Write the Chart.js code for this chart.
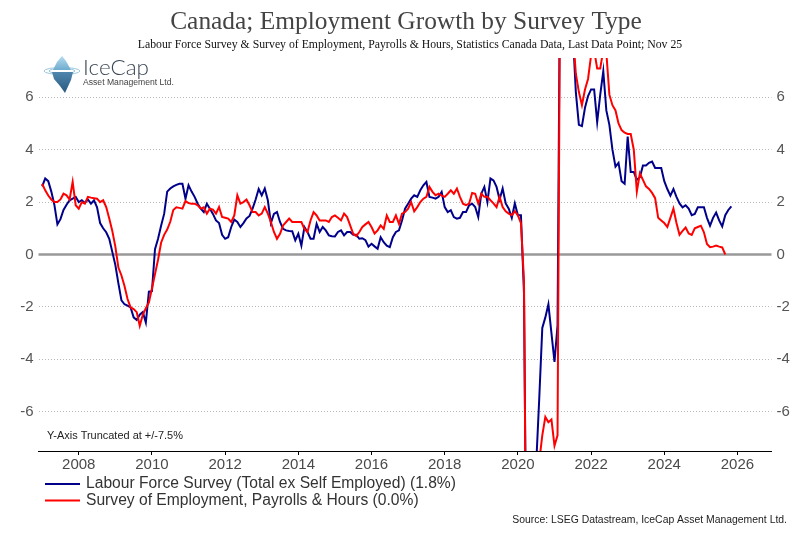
<!DOCTYPE html>
<html>
<head>
<meta charset="utf-8">
<script src="https://cdn.jsdelivr.net/npm/chart.js@4.4.1/dist/chart.umd.min.js"></script>
<style>
html, body { margin: 0; padding: 0; background: #fff; }
canvas { display: block; }
</style>
</head>
<body>
<canvas id="chart" width="810" height="539"></canvas>
<script>
// monthly y/y % growth, first point Jan 2007
const startYear = 2007;
const yearTicks = [2008, 2010, 2012, 2014, 2016, 2018, 2020, 2022, 2024, 2026];
const valueTicks = [-6, -4, -2, 0, 2, 4, 6];
const seriesNames = [
    'Labour Force Survey (Total ex Self Employed) (1.8%)',
    'Survey of Employment, Payrolls & Hours (0.0%)'
];

// Labour Force Survey, Jan 2007 - Nov 2025
const lfsValues = [
    2.6, 2.9, 2.8, 2.4, 1.9, 1.15, 1.35, 1.7, 1.9, 2.07, 2.13, 2.2,
    2.0, 2.07, 1.97, 2.1, 1.94, 2.07, 1.8, 1.2, 1.0, 0.85, 0.6, 0.1,
    -0.4, -1.1, -1.75, -1.9, -1.95, -2.02, -2.4, -2.5, -2.3, -2.2, -2.6, -1.42,
    -1.4, 0.2, 0.6, 1.1, 1.55, 2.4, 2.52, 2.6, 2.66, 2.7, 2.7, 2.13,
    2.64, 2.4, 2.2, 1.94, 1.75, 1.62, 1.94, 1.75, 1.55, 1.3, 1.2, 0.75,
    0.6, 0.66, 1.05, 1.33, 1.24, 1.05, 1.2, 1.38, 1.47, 1.75, 2.1, 2.5,
    2.26, 2.52, 2.07, 1.2, 1.55, 1.62, 1.24, 0.98, 0.92, 0.9, 0.89, 0.54,
    0.79, 0.34, 1.05, 0.86, 0.6, 0.6, 1.17, 0.86, 1.05, 0.92, 0.73, 0.7,
    0.69, 0.86, 0.92, 0.73, 0.86, 0.86, 0.75, 0.75, 0.6, 0.62, 0.55, 0.3,
    0.41, 0.31, 0.22, 0.66, 0.47, 0.34, 0.28, 0.66, 0.86, 0.92, 1.3, 1.75,
    1.94, 2.13, 2.26, 2.2, 2.45, 2.64, 2.77, 2.2, 2.17, 2.13, 2.2, 2.39,
    1.81, 1.62, 1.69, 1.43, 1.37, 1.4, 1.62, 1.62, 1.88, 1.94, 1.81, 1.43,
    2.32, 2.58, 2.0, 2.9, 2.83, 2.58, 2.1, 2.52, 1.95, 1.75, 1.4, 1.95,
    1.5, 1.5, -1.5, -15, -12, -10, -8.0, -5.5, -2.8, -2.4, -1.9, -3.0,
    -4.1, -2.7, 14, 16, 14, 11, 8.5, 6.2, 4.95, 4.9, 5.6, 6.05,
    6.3, 6.3, 5.05, 6.1, 7.0, 5.5, 4.95, 4.0, 3.35, 3.5, 2.8, 2.7,
    4.5, 3.15, 3.15, 2.85, 2.95, 3.4, 3.4, 3.5, 3.55, 3.3, 3.3, 3.3,
    2.8, 2.5, 2.25, 2.5, 2.2, 1.95, 1.8, 1.88, 1.75, 1.5, 1.55, 1.8,
    1.8, 1.8, 1.4, 1.1, 1.4, 1.6, 1.3, 1.07, 1.5, 1.7, 1.84
];

// Survey of Employment, Payrolls & Hours, Jan 2007 - Sep 2025
const sephValues = [
    2.7, 2.45, 2.25, 2.1, 2.0, 2.0, 2.1, 2.32, 2.26, 2.1, 2.77, 1.88,
    1.75, 2.0, 1.94, 2.2, 2.17, 2.15, 2.13, 2.0, 2.07, 1.81, 1.37, 0.9,
    0.3, -0.5, -0.8, -1.2, -1.7, -2.02, -2.08, -2.2, -2.72, -2.3, -2.05, -1.83,
    -1.3, -0.75, -0.2, 0.45, 0.75, 0.95, 1.25, 1.7, 1.8, 1.78, 1.75, 2.04,
    1.96, 1.94, 1.94, 1.88, 1.75, 1.8, 1.56, 1.75, 1.71, 1.56, 1.81, 1.43,
    1.4, 1.37, 1.24, 1.49, 2.26, 1.94, 2.0, 2.1, 1.88, 1.62, 1.62, 1.49,
    1.56, 1.81, 1.56, 1.24, 0.86, 0.6, 0.79, 1.11, 1.24, 1.37, 1.24, 1.24,
    1.24, 1.24, 0.98, 0.86, 1.3, 1.62, 1.49, 1.3, 1.3, 1.3, 1.24, 1.43,
    1.49, 1.4, 1.3, 1.56, 1.43, 1.11, 0.79, 0.7, 0.86, 1.05, 1.15, 1.24,
    1.05, 0.8, 0.92, 1.11, 0.98, 1.49, 1.24, 1.24, 1.49, 1.17, 1.56, 1.62,
    1.75, 2.0, 1.65, 1.81, 2.0, 2.13, 2.2, 2.58, 2.39, 2.26, 2.32, 2.25,
    2.2, 2.32, 2.45, 2.32, 2.52, 2.2, 1.94, 1.88, 1.94, 2.35, 2.32, 1.94,
    2.32, 2.2, 2.2, 2.07, 1.95, 1.81, 2.2, 1.81, 1.65, 1.56, 1.5, 1.65,
    1.49, 1.2, -1.0, -17, -16, -12, -9.5, -7.9, -6.9, -6.2, -6.4, -6.3,
    -7.3, -6.9, 14, 18, 15, 11, 8.5, 6.9, 6.2, 5.7, 6.3, 6.7,
    7.6, 7.8, 7.1, 7.1, 7.8, 7.7, 6.1, 5.7, 5.5, 5.0, 4.75, 4.65,
    4.6, 4.6, 4.0, 2.4, 3.1, 2.85, 2.6, 2.5, 2.35, 2.15, 1.4, 1.3,
    1.2, 1.05, 1.4, 1.75, 1.2, 0.75, 0.9, 1.03, 0.8, 0.75, 1.0, 1.05,
    1.1, 0.85, 0.4, 0.28, 0.3, 0.34, 0.3, 0.27, 0.0
];

let toPoints = function (values) {
    return values.map((v, i) => ({ x: startYear + i / 12, y: v }));
};

// fit a font size so the text takes a given width
let fitFont = function (ctx, text, family, weight, width) {
    ctx.font = weight + ' 20px ' + family;
    let size = 20 * width / ctx.measureText(text).width;
    return weight + ' ' + size.toFixed(2) + 'px ' + family;
};

let drawLogo = function (ctx) {
    ctx.save();
    // water rings
    ctx.strokeStyle = '#9cc8e0';
    ctx.lineWidth = 1;
    ctx.beginPath(); ctx.ellipse(62, 71, 18, 3.5, 0, 0, Math.PI * 2); ctx.stroke();
    ctx.beginPath(); ctx.ellipse(62, 71, 13, 2.5, 0, 0, Math.PI * 2); ctx.stroke();
    // ice above water
    let g1 = ctx.createLinearGradient(0, 56, 0, 71);
    g1.addColorStop(0, '#b5dcef');
    g1.addColorStop(1, '#6aa8cc');
    ctx.fillStyle = g1;
    ctx.beginPath();
    ctx.moveTo(62, 56); ctx.lineTo(66, 61); ctx.lineTo(71, 70);
    ctx.lineTo(53, 70); ctx.lineTo(57, 62); ctx.closePath(); ctx.fill();
    // ice below water
    let g2 = ctx.createLinearGradient(0, 72, 0, 93);
    g2.addColorStop(0, '#4f86ad');
    g2.addColorStop(1, '#2a5a80');
    ctx.fillStyle = g2;
    ctx.beginPath();
    ctx.moveTo(52, 72); ctx.lineTo(73, 72); ctx.lineTo(71, 80);
    ctx.lineTo(65, 93); ctx.lineTo(60, 86); ctx.lineTo(54, 79); ctx.closePath(); ctx.fill();
    // name
    ctx.fillStyle = '#3a4653';
    ctx.textBaseline = 'alphabetic';
    ctx.textAlign = 'left';
    ctx.font = fitFont(ctx, 'IceCap', 'Lato, Liberation Sans', '300', 66);
    ctx.fillText('IceCap', 83, 75);
    ctx.fillStyle = '#444';
    ctx.font = fitFont(ctx, 'Asset Management Ltd.', 'Liberation Sans', 'normal', 91);
    ctx.fillText('Asset Management Ltd.', 83, 85);
    ctx.restore();
};

const decorPlugin = {
    id: 'decor',
    beforeDraw: function (chart) {
        let ctx = chart.ctx;
        ctx.save();
        ctx.fillStyle = '#fff';
        ctx.fillRect(0, 0, chart.width, chart.height);
        ctx.restore();
    },
    beforeDatasetsDraw: function (chart) {
        // zero line
        let ctx = chart.ctx;
        let area = chart.chartArea;
        let y0 = chart.scales.y.getPixelForValue(0);
        ctx.save();
        ctx.strokeStyle = '#999';
        ctx.lineWidth = 2.5;
        ctx.beginPath();
        ctx.moveTo(area.left, y0);
        ctx.lineTo(area.right, y0);
        ctx.stroke();
        ctx.restore();
    },
    afterDraw: function (chart) {
        let ctx = chart.ctx;
        ctx.save();
        ctx.textBaseline = 'middle';

        let title = 'Canada; Employment Growth by Survey Type';
        ctx.fillStyle = '#444';
        ctx.textAlign = 'center';
        ctx.font = fitFont(ctx, title, 'Liberation Serif', 'normal', 472);
        ctx.fillText(title, 406, 22);

        let sub = 'Labour Force Survey & Survey of Employment, Payrolls & Hours, Statistics Canada Data, Last Data Point; Nov 25';
        ctx.fillStyle = '#111';
        ctx.font = fitFont(ctx, sub, 'Liberation Serif', 'normal', 545);
        ctx.fillText(sub, 410, 45);

        drawLogo(ctx);

        let note = 'Y-Axis Truncated at +/-7.5%';
        ctx.textAlign = 'left';
        ctx.fillStyle = '#222';
        ctx.font = fitFont(ctx, note, 'Liberation Sans Narrow, Liberation Sans', 'normal', 136);
        ctx.fillText(note, 47, 436);

        // legend
        ctx.font = fitFont(ctx, seriesNames[0], 'Liberation Sans', 'normal', 370);
        let legendFont = ctx.font;
        chart.data.datasets.forEach(function (ds, i) {
            let y = 484 + i * 16.5;
            ctx.strokeStyle = ds.borderColor;
            ctx.lineWidth = 2;
            ctx.beginPath();
            ctx.moveTo(45, y);
            ctx.lineTo(80, y);
            ctx.stroke();
            ctx.fillStyle = '#333';
            ctx.font = legendFont;
            ctx.fillText(ds.label, 86, y);
        });

        let src = 'Source: LSEG Datastream, IceCap Asset Management Ltd.';
        ctx.textAlign = 'right';
        ctx.fillStyle = '#222';
        ctx.font = fitFont(ctx, src, 'Liberation Sans Narrow, Liberation Sans', 'normal', 275);
        ctx.fillText(src, 787, 520);
        ctx.restore();
    }
};

let chartDraw = function () {
    let painter = document.getElementById('chart').getContext('2d');
    window.surveyChart = new Chart(painter, {
        type: 'line',
        data: {
            datasets: [{
                label: seriesNames[0],
                data: toPoints(lfsValues),
                borderColor: '#00008b',
                borderWidth: 2,
                pointRadius: 0,
                clip: 0,
                order: 2,
            }, {
                label: seriesNames[1],
                data: toPoints(sephValues),
                borderColor: '#ff0000',
                borderWidth: 2,
                pointRadius: 0,
                clip: 0,
                order: 1,
            }]
        },
        options: {
            responsive: false,
            animation: false,
            events: [],
            layout: { padding: { top: 58, bottom: 60, left: 0, right: 0 } },
            scales: {
                x: {
                    type: 'linear',
                    min: 2006.9,
                    max: 2026.93,
                    afterBuildTicks: function (scale) {
                        scale.ticks = yearTicks.map(v => ({ value: v }));
                    },
                    afterFit: function (scale) { scale.height = 28; },
                    grid: { drawOnChartArea: false, drawTicks: true, tickLength: 4, color: '#000' },
                    border: { display: true, color: '#000', width: 1 },
                    ticks: {
                        autoSkip: false,
                        maxRotation: 0,
                        padding: 1,
                        color: '#4a4a4a',
                        font: { family: 'Liberation Sans', size: 15 },
                        callback: v => String(v),
                    },
                },
                y: {
                    min: -7.5,
                    max: 7.5,
                    afterBuildTicks: function (scale) {
                        scale.ticks = valueTicks.map(v => ({ value: v }));
                    },
                    afterFit: function (scale) { scale.width = 38.5; },
                    grid: {
                        drawTicks: false,
                        color: ctx => ctx.tick && ctx.tick.value === 0 ? 'rgba(0,0,0,0)' : '#b8b8b8',
                        lineWidth: 1,
                    },
                    border: { display: false, dash: [1, 2] },
                    ticks: {
                        padding: 5,
                        color: '#555',
                        font: { family: 'Liberation Sans', size: 15 },
                    },
                },
                y2: {
                    position: 'right',
                    min: -7.5,
                    max: 7.5,
                    afterBuildTicks: function (scale) {
                        scale.ticks = valueTicks.map(v => ({ value: v }));
                    },
                    afterFit: function (scale) { scale.width = 38.5; },
                    grid: { display: false, drawTicks: false },
                    border: { display: false },
                    ticks: {
                        padding: 5,
                        color: '#555',
                        font: { family: 'Liberation Sans', size: 15 },
                    },
                },
            },
            plugins: {
                legend: { display: false },
                tooltip: { enabled: false },
            },
        },
        plugins: [decorPlugin],
    });
};

window.onload = function () {
    chartDraw();
};
</script>
</body>
</html>
